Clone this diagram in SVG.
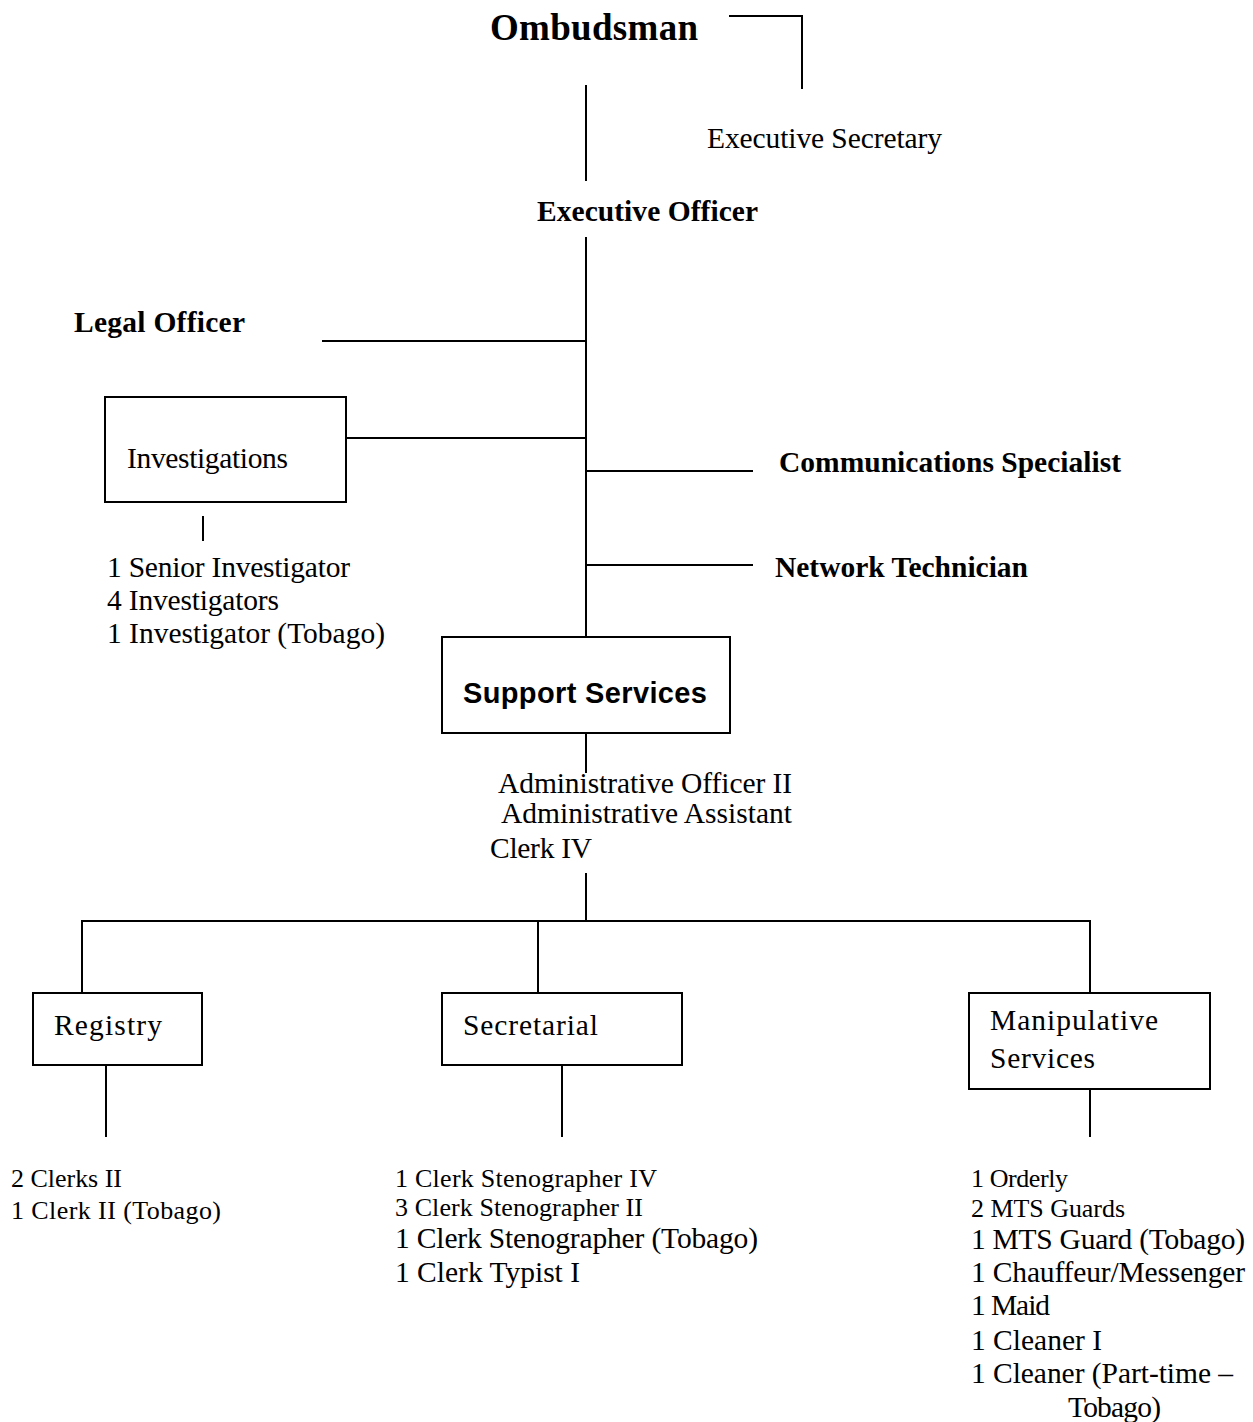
<svg xmlns="http://www.w3.org/2000/svg" width="1253" height="1422" viewBox="0 0 1253 1422">
<style>
.bg{fill:#fff}
.box{fill:#fff;stroke:#000;stroke-width:2}
.ln{fill:none;stroke:#000;stroke-width:2}
text{fill:#000;font-family:"Liberation Serif","Times New Roman",serif}
.t{font-size:29.5px}
.s{font-size:26px}
.b{font-size:29.5px;font-weight:bold}
.big{font-size:37px;font-weight:bold}
.sans{font-family:"Liberation Sans",Arial,sans-serif;font-size:29px;font-weight:bold}
</style>
<rect class="bg" x="0" y="0" width="1253" height="1422"/>
<g id="connectors">
<path class="ln" d="M729,16 H802 V89"/>
<path class="ln" d="M586,85 V181"/>
<path class="ln" d="M586,237 V637"/>
<path class="ln" d="M322,341 H586"/>
<path class="ln" d="M346,438 H586"/>
<path class="ln" d="M586,471 H753"/>
<path class="ln" d="M586,565 H753"/>
<path class="ln" d="M203,516 V541"/>
<path class="ln" d="M586,733 V773"/>
<path class="ln" d="M586,873 V921"/>
<path class="ln" d="M81,921 H1091"/>
<path class="ln" d="M82,921 V993"/>
<path class="ln" d="M538,921 V993"/>
<path class="ln" d="M1090,921 V993"/>
<path class="ln" d="M106,1065 V1137"/>
<path class="ln" d="M562,1065 V1137"/>
<path class="ln" d="M1090,1089 V1137"/>
</g>
<g id="ombudsman"><text class="big" x="490" y="40" textLength="208">Ombudsman</text></g>
<g id="executive-secretary"><text class="t" x="707" y="148" textLength="235">Executive Secretary</text></g>
<g id="executive-officer"><text class="b" x="537" y="221" textLength="221">Executive Officer</text></g>
<g id="legal-officer"><text class="b" x="74" y="332" textLength="171">Legal Officer</text></g>
<g id="investigations">
<rect class="box" x="105" y="397" width="241" height="105"/>
<text class="t" x="127" y="468" textLength="161">Investigations</text>
</g>
<g id="investigations-staff">
<text class="t" x="107" y="577" textLength="243">1 Senior Investigator</text>
<text class="t" x="107" y="610" textLength="172">4 Investigators</text>
<text class="t" x="107" y="643" textLength="278">1 Investigator (Tobago)</text>
</g>
<g id="communications-specialist"><text class="b" x="779" y="472" textLength="342">Communications Specialist</text></g>
<g id="network-technician"><text class="b" x="775" y="577" textLength="253">Network Technician</text></g>
<g id="support-services">
<rect class="box" x="442" y="637" width="288" height="96"/>
<text class="sans" x="463" y="703" textLength="244">Support Services</text>
</g>
<g id="support-staff">
<text class="t" x="498" y="793" textLength="294">Administrative Officer II</text>
<text class="t" x="501" y="823" textLength="291">Administrative Assistant</text>
<text class="t" x="490" y="858" textLength="102">Clerk IV</text>
</g>
<g id="registry">
<rect class="box" x="33" y="993" width="169" height="72"/>
<text class="t" x="54" y="1035" textLength="108">Registry</text>
</g>
<g id="registry-staff">
<text class="s" x="11" y="1187" textLength="111">2 Clerks II</text>
<text class="s" x="11" y="1219" textLength="210">1 Clerk II (Tobago)</text>
</g>
<g id="secretarial">
<rect class="box" x="442" y="993" width="240" height="72"/>
<text class="t" x="463" y="1035" textLength="135">Secretarial</text>
</g>
<g id="secretarial-staff">
<text class="s" x="395" y="1187" textLength="262">1 Clerk Stenographer IV</text>
<text class="s" x="395" y="1216" textLength="248">3 Clerk Stenographer II</text>
<text class="t" x="395" y="1248" textLength="363">1 Clerk Stenographer (Tobago)</text>
<text class="t" x="395" y="1282" textLength="185">1 Clerk Typist I</text>
</g>
<g id="manipulative-services">
<rect class="box" x="969" y="993" width="241" height="96"/>
<text class="t" x="990" y="1030" textLength="168">Manipulative</text>
<text class="t" x="990" y="1068" textLength="105">Services</text>
</g>
<g id="manipulative-staff">
<text class="s" x="971" y="1187" textLength="97">1 Orderly</text>
<text class="s" x="971" y="1217" textLength="154">2 MTS Guards</text>
<text class="t" x="971" y="1249" textLength="274">1 MTS Guard (Tobago)</text>
<text class="t" x="971" y="1282" textLength="274">1 Chauffeur/Messenger</text>
<text class="t" x="971" y="1315" textLength="79">1 Maid</text>
<text class="t" x="971" y="1350" textLength="131">1 Cleaner I</text>
<text class="t" x="971" y="1383" textLength="262">1 Cleaner (Part-time –</text>
<text class="t" x="1068" y="1417" textLength="93">Tobago)</text>
</g>
</svg>
